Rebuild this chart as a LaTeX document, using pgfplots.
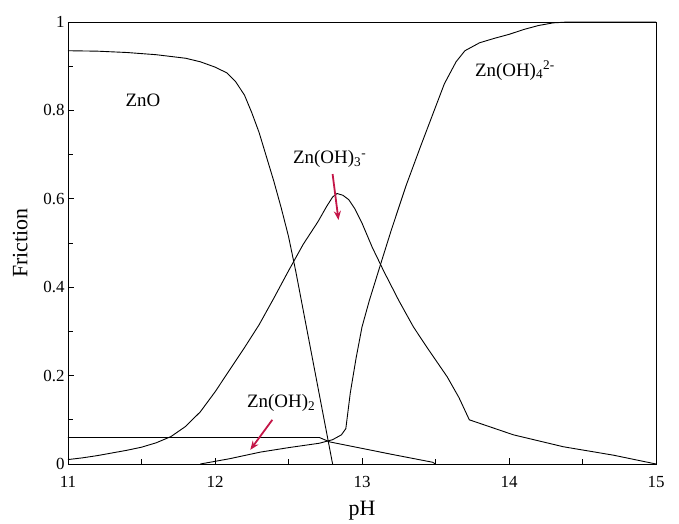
\documentclass[border=0pt]{standalone}
\usepackage{pgfplots}
\pgfplotsset{compat=1.18}
\usepackage{fontspec}
\setmainfont{Liberation Serif}
\usetikzlibrary{arrows.meta}
\definecolor{arrowred}{RGB}{196,22,72}
\pgfplotsset{species/.style={black, line width=0.9pt, mark=none}}

\begin{document}
\begin{tikzpicture}
\begin{axis}[
  scale only axis,
  width=588bp, height=442bp,
  xmin=11, xmax=15, ymin=0, ymax=1,
  xtick={11,12,13,14,15},
  minor xtick={11.5,12.5,13.5,14.5},
  ytick={0,0.2,0.4,0.6,0.8,1},
  yticklabels={0,0.2,0.4,0.6,0.8,1},
  minor ytick={0.1,0.3,0.5,0.7,0.9},
  tick align=inside,
  xtick pos=bottom, ytick pos=left,
  major tick length=6bp, minor tick length=5bp,
  every tick/.style={black, line width=0.8pt},
  axis line style={black, line width=0.9pt},
  tick label style={font=\fontsize{17}{17}\selectfont},
  /pgf/number format/assume math mode=true,
  xticklabel style={yshift=-9bp},
  xlabel={pH}, ylabel={Friction},
  label style={font=\fontsize{22}{22}\selectfont},
  xlabel style={yshift=-6bp},
  ylabel style={yshift=9bp},
  clip=false,
]
% ZnO
\addplot[species] coordinates {
 (11,0.935) (11.2,0.934) (11.4,0.931) (11.6,0.926) (11.8,0.918)
 (11.9,0.910) (12.0,0.898) (12.08,0.885) (12.14,0.865) (12.2,0.835)
 (12.25,0.795) (12.3,0.75) (12.35,0.695) (12.4,0.64) (12.45,0.58)
 (12.5,0.515) (12.55,0.435) (12.80,0.0)};
% Zn(OH)3-
\addplot[species] coordinates {
 (11.0,0.010) (11.1,0.014) (11.2,0.019) (11.3,0.025) (11.4,0.031)
 (11.5,0.038) (11.6,0.048) (11.7,0.062) (11.8,0.085) (11.9,0.118)
 (12.0,0.163) (12.1,0.213) (12.2,0.263) (12.3,0.315) (12.4,0.375)
 (12.5,0.437) (12.6,0.497) (12.7,0.548) (12.76,0.583) (12.8,0.604)
 (12.83,0.612) (12.87,0.608) (12.91,0.598) (12.95,0.578) (13.0,0.545)
 (13.07,0.49) (13.15,0.435) (13.25,0.37) (13.35,0.31) (13.45,0.26)
 (13.58,0.197) (13.66,0.15) (13.73,0.10) (14.03,0.066) (14.37,0.039)
 (14.71,0.02) (15,0.0)};
% Zn(OH)4 2-
\addplot[species] coordinates {
 (11.9,0.0) (12.1,0.012) (12.31,0.027) (12.5,0.037) (12.71,0.047)
 (12.8,0.055) (12.86,0.066) (12.89,0.08) (12.92,0.16) (12.96,0.24)
 (13.0,0.31) (13.05,0.37) (13.12,0.445) (13.2,0.53) (13.3,0.63)
 (13.4,0.72) (13.48,0.79) (13.56,0.86) (13.64,0.91) (13.7,0.935)
 (13.8,0.953) (13.9,0.963) (14.0,0.972) (14.1,0.983) (14.2,0.992)
 (14.3,0.998) (14.4,1.0) (15,1.0)};
% Zn(OH)2
\addplot[species] coordinates {
 (11,0.06) (12.71,0.06) (12.78,0.05) (12.99,0.036) (13.2,0.022)
 (13.48,0.004) (13.5,0.0)};

% species labels
\node[font=\fontsize{19}{19}\selectfont] at (axis cs:11.51,0.823) {ZnO};
\node[font=\fontsize{19}{19}\selectfont] at (axis cs:12.78,0.69)
  {Zn(OH)\textsubscript{3}\textsuperscript{-}};
\node[font=\fontsize{19}{19}\selectfont] at (axis cs:14.04,0.89)
  {Zn(OH)\textsubscript{4}\textsuperscript{2-}};
\node[font=\fontsize{19}{19}\selectfont] at (axis cs:12.45,0.138)
  {Zn(OH)\textsubscript{2}};

% pointer arrows
\draw[arrowred, line width=1.8pt, -{Stealth[length=9bp,width=7bp]}]
  (axis cs:12.80,0.656) -- (axis cs:12.84,0.552);
\draw[arrowred, line width=1.8pt, -{Stealth[length=9bp,width=7bp]}]
  (axis cs:12.39,0.10) -- (axis cs:12.24,0.032);
\end{axis}
\path ([shift={(-68bp,-59bp)}]current axis.south west) rectangle
      ([shift={(23bp,22bp)}]current axis.north east);
\end{tikzpicture}
\end{document}
